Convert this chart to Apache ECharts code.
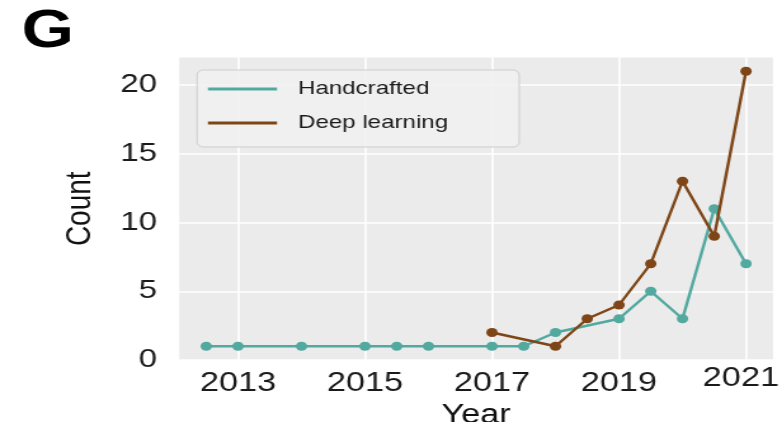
<!DOCTYPE html>
<html>
<head>
<meta charset="utf-8">
<title>Handcrafted vs deep learning publications per year</title>
<script src="https://cdn.jsdelivr.net/npm/echarts@6/dist/echarts.min.js"></script>
<style>
  html, body { margin: 0; padding: 0; background: #ffffff; overflow: hidden; }
  /* the figure is drawn narrow and widened horizontally, as in the printed panel */
  #chart {
    width: 616px;
    height: 422px;
    transform: scaleX(1.2695);
    transform-origin: 0 0;
  }
</style>
</head>
<body>
<div id="chart"></div>
<script>
// Publication counts by (half-)year
const handYears  = [2012.5, 2013, 2014, 2015, 2015.5, 2016, 2017, 2017.5, 2018, 2019, 2019.5, 2020, 2020.5, 2021];
const handCounts = [1, 1, 1, 1, 1, 1, 1, 1, 2, 3, 5, 3, 11, 7];

const deepYears  = [2017, 2018, 2018.5, 2019, 2019.5, 2020, 2020.5, 2021];
const deepCounts = [2, 1, 3, 4, 7, 13, 9, 21];

const yearTicks  = [2013, 2015, 2017, 2019, 2021];
const countTicks = [0, 5, 10, 15, 20];

const seriesNames = ['Handcrafted', 'Deep learning'];

const pairs = (xs, ys) => xs.map((x, i) => [x, ys[i]]);

const TEAL = '#52a99f';
const BROWN = '#7e4617';
const FONT = '"Liberation Sans", Arial, sans-serif';
const lastYear = yearTicks[yearTicks.length - 1];

const chart = echarts.init(document.getElementById('chart'), null, { renderer: 'canvas' });

chart.setOption({
  animation: false,
  backgroundColor: '#ffffff',
  title: {
    text: 'G',
    left: 17,
    top: 6,
    padding: 0,
    textStyle: { fontFamily: FONT, fontSize: 53, fontWeight: 'bold', color: '#000000', lineHeight: 53 }
  },
  grid: {
    left: 141.2,
    right: 7.1,
    top: 57.5,
    bottom: 62,
    outerBoundsMode: 'none',
    containLabel: false,
    show: true,
    backgroundColor: '#ebebeb',
    borderWidth: 0
  },
  legend: {
    data: seriesNames,
    orient: 'vertical',
    left: 155.2,
    top: 70,
    padding: [8, 56, 13, 8.6],
    itemGap: 12,
    itemWidth: 54.4,
    itemHeight: 3,
    icon: 'rect',
    itemStyle: { borderWidth: 0 },
    backgroundColor: 'rgba(241,241,241,0.9)',
    borderColor: '#cdcdcd',
    borderWidth: 1,
    borderRadius: 5,
    textStyle: {
      fontFamily: FONT,
      fontSize: 19,
      lineHeight: 22,
      color: '#1a1a1a',
      padding: [0, 0, 0, 11.5]
    }
  },
  xAxis: {
    type: 'value',
    min: 2012.075,
    max: 2021.425,
    name: 'Year',
    nameLocation: 'middle',
    nameGap: 40,
    nameTextStyle: { fontFamily: FONT, fontSize: 27, color: '#111111', lineHeight: 27 },
    axisLine: { show: false },
    axisTick: { show: false, customValues: yearTicks },
    axisLabel: {
      customValues: yearTicks,
      margin: 10,
      fontFamily: FONT,
      fontSize: 27,
      lineHeight: 27,
      color: '#1a1a1a',
      // the last year sits against the right edge, nudged left and up
      formatter: v => (v === lastYear ? '{edge|' + v + '}' : String(v)),
      rich: {
        edge: {
          fontFamily: FONT,
          fontSize: 27,
          lineHeight: 17,
          color: '#1a1a1a',
          padding: [0, 8, 0, 0]
        }
      }
    },
    splitLine: { show: true, lineStyle: { color: '#ffffff', width: 1.6 } }
  },
  yAxis: {
    type: 'value',
    min: 0,
    max: 22,
    name: 'Count',
    nameLocation: 'middle',
    nameRotate: 90,
    nameGap: 64,
    nameTextStyle: { fontFamily: FONT, fontSize: 28, color: '#111111', lineHeight: 28 },
    axisLine: { show: false },
    axisTick: { show: false, customValues: countTicks },
    axisLabel: {
      customValues: countTicks,
      margin: 17.5,
      fontFamily: FONT,
      fontSize: 26,
      color: '#1a1a1a'
    },
    splitLine: { show: true, lineStyle: { color: '#ffffff', width: 1.6 } }
  },
  series: [
    {
      name: seriesNames[0],
      type: 'line',
      data: pairs(handYears, handCounts),
      symbol: 'circle',
      symbolSize: 9,
      z: 2,
      lineStyle: { color: TEAL, width: 2.4 },
      itemStyle: { color: TEAL, borderWidth: 0 }
    },
    {
      name: seriesNames[1],
      type: 'line',
      data: pairs(deepYears, deepCounts),
      symbol: 'circle',
      symbolSize: 9,
      z: 3,
      lineStyle: { color: BROWN, width: 2.4 },
      itemStyle: { color: BROWN, borderWidth: 0 }
    }
  ]
});
</script>
</body>
</html>
